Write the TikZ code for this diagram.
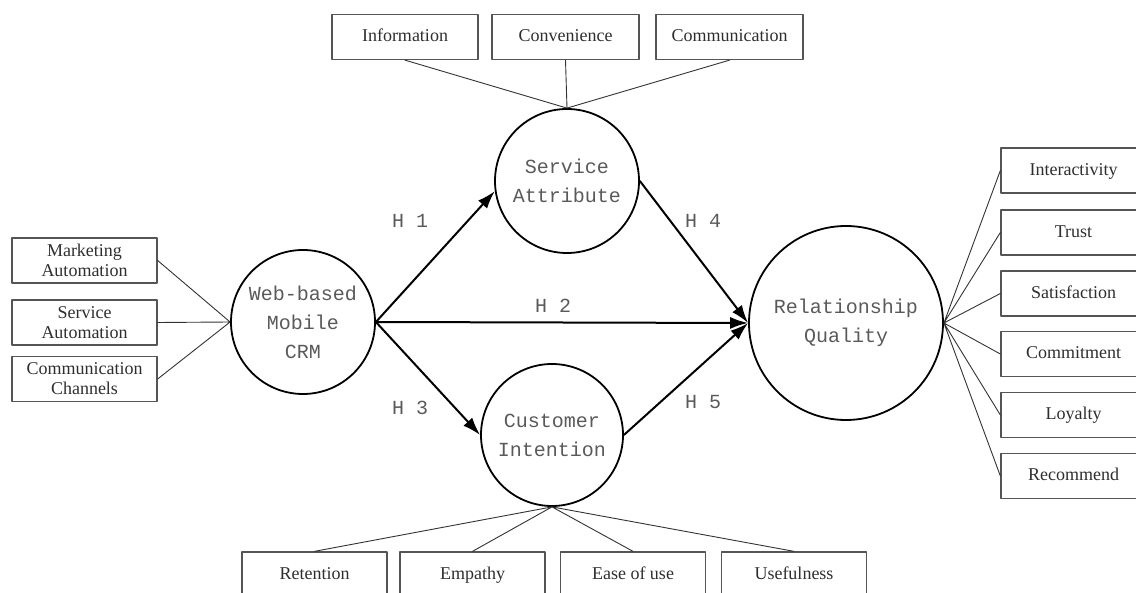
\documentclass[tikz,border=0pt]{standalone}
\usepackage{fontspec}
\setmainfont{Liberation Serif}
\newfontfamily\circfont{Liberation Mono}
\usepackage{tikz}
\usetikzlibrary{arrows.meta}
\definecolor{boxgray}{HTML}{555555}
\definecolor{txtgray}{HTML}{2E2E2E}
\definecolor{circtxt}{HTML}{5A5A5A}
\tikzset{
  every picture/.style={line join=round, line cap=round, >=Stealth},
  factor/.style={draw, circle, line width=1.8pt, text=circtxt, inner sep=0pt,
    font=\circfont\fontsize{20}{29}\selectfont, align=center},
  item/.style={draw=boxgray, line width=1.3pt, minimum width=145pt, minimum height=45pt,
    inner sep=0pt, text=txtgray, font=\fontsize{18}{20}\selectfont, align=center},
  oneline/.style={item, text height=12pt, text depth=2pt},
  link/.style={line width=0.9pt, draw=black!80},
  hyp/.style={line width=2pt, -{Latex[length=18pt,width=12pt]}},
  hlabel/.style={text=circtxt, font=\circfont\fontsize{20}{24}\selectfont},
}

\begin{document}
\begin{tikzpicture}[x=1pt,y=-1pt]
\clip (0,0) rectangle (1136,593);
% constructs
\node[factor,minimum size=144pt] (web) at (303,322) {Web-based\\Mobile\\CRM};
\node[factor,minimum size=144pt] (serv) at (567,181) {Service\\Attribute};
\node[factor,minimum size=142pt] (cust) at (552,435) {Customer\\Intention};
\node[factor,minimum size=194pt] (rel) at (846,323) {Relationship\\Quality};
% left items
\node[item] (mkt) at (84.5,260.5) {Marketing\\Automation};
\node[item] (svc) at (84.5,322.5) {Service\\Automation};
\node[item] (chan) at (84.5,379) {Communication\\Channels};
% top items
\node[oneline,minimum width=146pt] (info) at (405,37) {Information};
\node[oneline,minimum width=147pt] (conv) at (565.5,37) {Convenience};
\node[oneline,minimum width=147pt] (comm) at (729.5,37) {Communication};
% bottom items
\node[oneline] (ret) at (314.5,574.5) {Retention};
\node[oneline] (emp) at (472.5,574.5) {Empathy};
\node[oneline] (ease) at (633,574.5) {Ease of use};
\node[oneline] (use) at (794,574.5) {Usefulness};
% right items
\node[oneline] (inter) at (1073.5,170.5) {Interactivity};
\node[oneline] (trust) at (1073.5,232.5) {Trust};
\node[oneline] (sat) at (1073.5,293.5) {Satisfaction};
\node[oneline] (commit) at (1073.5,354) {Commitment};
\node[oneline] (loyal) at (1073.5,415) {Loyalty};
\node[oneline] (recom) at (1073.5,476) {Recommend};
% indicator links
\draw[link] (mkt.east)--(web.west) (svc.east)--(web.west) (chan.east)--(web.west);
\draw[link] (info.south)--(serv.north) (conv.south)--(serv.north) (comm.south)--(serv.north);
\draw[link] (cust.south)--(ret.north) (cust.south)--(emp.north)
  (cust.south)--(ease.north) (cust.south)--(use.north);
\draw[link] (rel.east)--(inter.west) (rel.east)--(trust.west) (rel.east)--(sat.west)
  (rel.east)--(commit.west) (rel.east)--(loyal.west) (rel.east)--(recom.west);
% hypotheses
\draw[hyp] (web.east)--(serv.188);
\draw[hyp] (web.east)--(rel.west);
\draw[hyp] (web.east)--(cust.west);
\draw[hyp] (serv.east)--(rel.west);
\draw[hyp] (cust.east)--(rel.west);
\node[hlabel] (h1) at (410,221) {H 1};
\node[hlabel] (h2) at (553,306) {H 2};
\node[hlabel] (h3) at (410,408) {H 3};
\node[hlabel] (h4) at (703,221) {H 4};
\node[hlabel] (h5) at (703,402) {H 5};
\end{tikzpicture}
\end{document}
